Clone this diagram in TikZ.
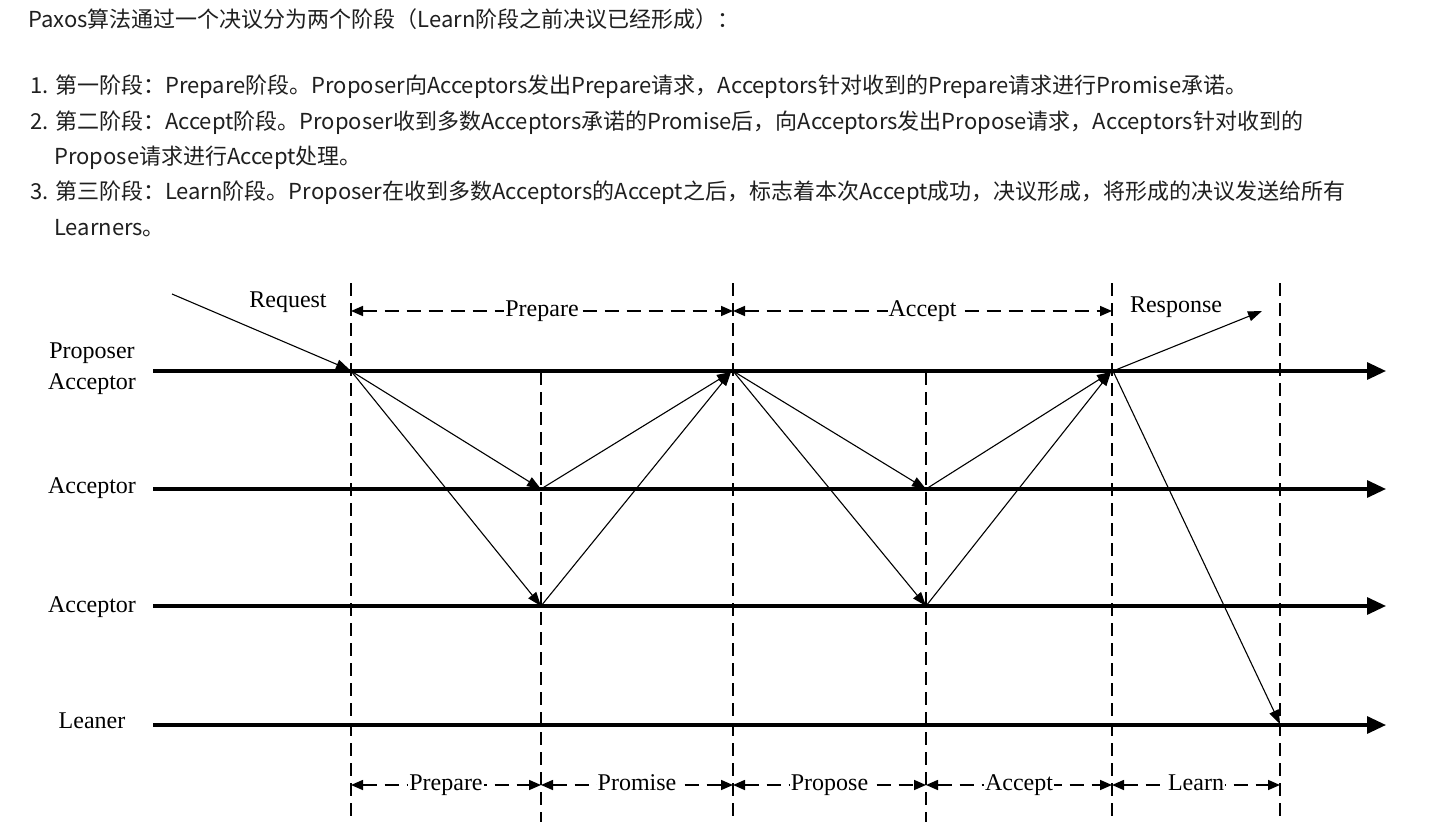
\documentclass[tikz,border=0pt]{standalone}
\usepackage{fontspec}
\setmainfont{Liberation Serif}
\newfontfamily\cjk{Noto Sans CJK SC}
\usetikzlibrary{arrows.meta}
\definecolor{txt}{HTML}{1F1F1F}
\begin{document}
\begin{tikzpicture}[x=1pt,y=-1pt,
  timeline/.style={line width=3.2pt,-{Triangle[length=19pt,width=17pt]}},
  vdash/.style={line width=1.8pt,dash pattern=on 13pt off 7pt},
  msg/.style={line width=1.1pt,-{Triangle[length=14pt,width=10pt]}},
  dimline/.style={line width=1.6pt,dash pattern=on 14pt off 8pt,
    {Triangle[length=12pt,width=10pt]}-{Triangle[length=12pt,width=10pt]}},
  lab/.style={font=\fontsize{24}{26}\selectfont,inner sep=0pt},
  dimlab/.style={lab,fill=white,inner xsep=1pt,inner ysep=0pt,text height=13pt,text depth=3pt},
  para/.style={anchor=base west,font=\cjk\fontsize{22}{26}\selectfont,text=txt,inner sep=0pt}
]
\fill[white] (0,0) rectangle (1452,824);
\useasboundingbox (0,0) rectangle (1452,824);

% ---- paragraph text ----
\node[para] (l1) at (28,28) {Paxos算法通过一个决议分为两个阶段（Learn阶段之前决议已经形成）：};
\node[para] (l2) at (30,94) {1. 第一阶段：Prepare阶段。Proposer向Acceptors发出Prepare请求，Acceptors针对收到的Prepare请求进行Promise承诺。};
\node[para] (l3) at (30,130) {2. 第二阶段：Accept阶段。Proposer收到多数Acceptors承诺的Promise后，向Acceptors发出Propose请求，Acceptors针对收到的};
\node[para] (l4) at (54,165) {Propose请求进行Accept处理。};
\node[para] (l5) at (30,200) {3. 第三阶段：Learn阶段。Proposer在收到多数Acceptors的Accept之后，标志着本次Accept成功，决议形成，将形成的决议发送给所有};
\node[para] (l6) at (54,235) {Learners。};

% ---- coordinates ----
\foreach \i/\y in {1/371,2/489,3/606,4/725}{
  \coordinate (s\i) at (153,\y);
  \coordinate (e\i) at (1386,\y);
}
\foreach \i/\x/\t in {1/351/283,2/541/372,3/733/283,4/926/372,5/1112/283,6/1280/283}{
  \coordinate (t\i) at (\x,\t);
  \coordinate (b\i) at (\x,822);
}
% message points
\coordinate (pa) at (351,371);
\coordinate (a1p) at (541,489);
\coordinate (a2p) at (541,606);
\coordinate (pb) at (731,372);
\coordinate (pc) at (733,371);
\coordinate (a1a) at (926,489);
\coordinate (a2a) at (926,606);
\coordinate (pd) at (1111,372);
\coordinate (pe) at (1113,371);
\coordinate (ln) at (1280,724);
\coordinate (rq) at (172,294);
\coordinate (rqe) at (350,370);
\coordinate (rs) at (1262,311);

% ---- vertical dashed lines ----
\foreach \i in {1,...,6}{\draw[vdash] (t\i) -- (b\i);}

% ---- timelines ----
\foreach \i in {1,...,4}{\draw[timeline] (s\i) -- (e\i);}

% ---- labels on the left ----
\node[lab,anchor=base] (nprop) at (92,358) {Proposer};
\node[lab,anchor=base] (nacc0) at (92,389) {Acceptor};
\node[lab,anchor=base] (nacc1) at (92,493) {Acceptor};
\node[lab,anchor=base] (nacc2) at (92,612) {Acceptor};
\node[lab,anchor=base] (nlrn) at (92,728) {Leaner};

% ---- messages ----
\draw[msg] (rq) -- (rqe);
\node[lab,anchor=base] (nreq) at (288,307) {Request};
\draw[msg] (pa) -- (a1p);
\draw[msg] (pa) -- (a2p);
\draw[msg] (a1p) -- (pb);
\draw[msg] (a2p) -- (pb);
\draw[msg] (pc) -- (a1a);
\draw[msg] (pc) -- (a2a);
\draw[msg] (a1a) -- (pd);
\draw[msg] (a2a) -- (pd);
\draw[msg] (pe) -- (ln);
\draw[msg] (pe) -- (rs);
\node[lab,anchor=base] (nres) at (1176,312) {Response};

% ---- top dimension arrows ----
\coordinate (d1) at (351,311);
\coordinate (d2) at (733,311);
\coordinate (d3) at (1112,311);
\draw[dimline] (d1) -- node[dimlab] (tprep) {Prepare} (d2);
\draw[dimline] (d2) -- node[dimlab] (tacc) {Accept} (d3);

% ---- bottom dimension arrows ----
\foreach \i/\x in {1/351,2/541,3/733,4/926,5/1112,6/1280}{\coordinate (f\i) at (\x,785);}
\draw[dimline] (f1) -- node[dimlab] (bprep) {Prepare} (f2);
\draw[dimline] (f2) -- node[dimlab] (bprom) {Promise} (f3);
\draw[dimline] (f3) -- node[dimlab] (bprop) {Propose} (f4);
\draw[dimline] (f4) -- node[dimlab] (bacc) {Accept} (f5);
\draw[dimline] (f5) -- node[dimlab] (blrn) {Learn} (f6);
\end{tikzpicture}
\end{document}
